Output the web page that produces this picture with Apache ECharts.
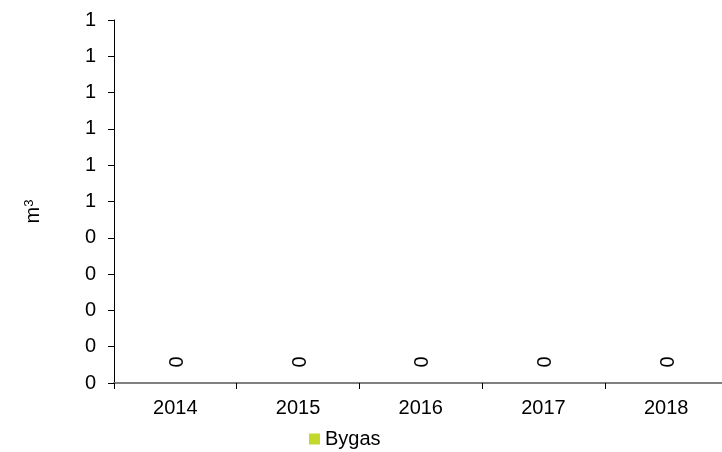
<!DOCTYPE html>
<html><head><meta charset="utf-8">
<script src="https://cdn.jsdelivr.net/npm/echarts@6/dist/echarts.min.js"></script>
<style>html,body{margin:0;padding:0;background:#fff;overflow:hidden;width:722px;height:452px}#c{width:732px;height:452px}</style>
</head><body><div id="c"></div>
<script>
var years = ['2014', '2015', '2016', '2017', '2018'];
var bygas = [0, 0, 0, 0, 0];
var seriesName = 'Bygas';
var chart = echarts.init(document.getElementById('c'));
var font = 'Liberation Sans, Arial, sans-serif';
chart.setOption({
  animation: false,
  grid: { left: 114, top: 20, width: 613.5, height: 363 },
  legend: {
    top: 424, left: 304, itemWidth: 11, itemHeight: 11, icon: 'rect',
    textStyle: { fontFamily: font, fontSize: 20, color: '#000' },
    data: [seriesName]
  },
  xAxis: {
    type: 'category', data: years,
    axisLine: { lineStyle: { color: '#808080', width: 2 } },
    axisTick: { show: true, length: 6, lineStyle: { color: '#000' } },
    axisLabel: { fontFamily: font, fontSize: 20, color: '#000', margin: 15 }
  },
  yAxis: {
    type: 'value', min: 0, max: 1, interval: 0.1,
    name: 'm{sup|3}', nameLocation: 'middle', nameGap: 70, nameRotate: 90,
    nameTextStyle: { fontFamily: font, fontSize: 20, color: '#000', padding: [0, 20, 0, 0],
      rich: { sup: { fontFamily: font, fontSize: 13, color: '#000', verticalAlign: 'top', padding: [0, 0, 8, 0] } } },
    splitLine: { show: false },
    axisLine: { show: true, lineStyle: { color: '#000' } },
    axisTick: { show: true, length: 6, lineStyle: { color: '#000' } },
    axisLabel: { fontFamily: font, fontSize: 20, color: '#000', margin: 18,
      formatter: function (v) { return String(Math.round(v)); } }
  },
  series: [{
    name: seriesName, type: 'bar', data: bygas,
    itemStyle: { color: '#c3d82c' },
    label: { show: true, position: 'top', distance: 21, rotate: 90, offset: [0, 2],
      align: 'center', verticalAlign: 'middle',
      fontFamily: font, fontSize: 20, color: '#000' }
  }]
});
</script></body></html>
